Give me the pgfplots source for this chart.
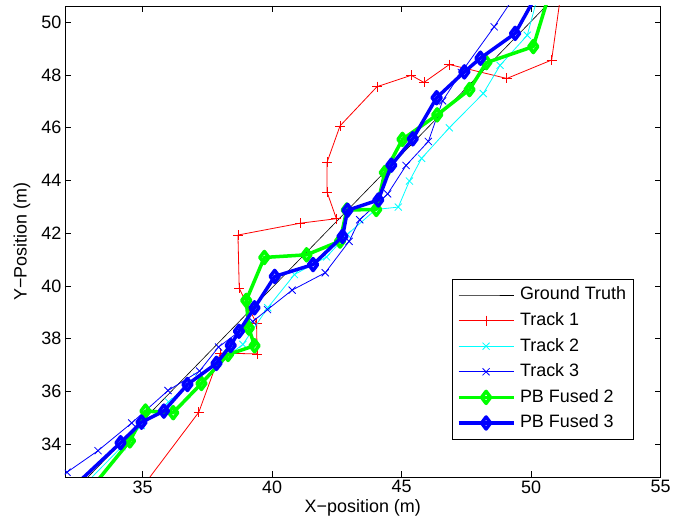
\documentclass[border=0pt]{standalone}
\usepackage{pgfplots}
\pgfplotsset{compat=1.18}
\usepackage{fontspec}
\setmainfont{Liberation Sans}
\definecolor{mred}{RGB}{255,0,0}
\definecolor{mcyan}{RGB}{0,255,255}
\definecolor{mblue}{RGB}{0,0,255}
\definecolor{mgreen}{RGB}{0,255,0}
\begin{document}
\begin{tikzpicture}
\useasboundingbox (0,0) rectangle (688bp,527bp);
\begin{axis}[
  at={(64.9bp,50bp)}, anchor=south west,
  width=595.8bp, height=471bp, scale only axis,
  xmin=32, xmax=55, ymin=32.75, ymax=50.62,
  xtick={35,40,45,50,55}, ytick={34,36,...,50},
  font=\fontsize{18}{21.6}\selectfont,
  /pgf/number format/assume math mode=true,
  tick align=inside, major tick length=6bp,
  tick style={black, line width=0.6bp},
  axis line style={black, line width=0.6bp},
  xlabel={X−position (m)}, ylabel={Y−Position (m)},
  xlabel style={at={(axis description cs:0.5,-0.0758)}, anchor=base},
  ylabel style={at={(axis description cs:-0.0722,0.5)}, anchor=center},
  clip marker paths=true,
  legend cell align=left,
  legend image code/.code={\draw[mark repeat=2,mark phase=2,#1] plot coordinates {(0bp,0bp) (27.5bp,0bp) (55bp,0bp)};},
  legend style={at={(axis description cs:1,0)}, anchor=south east, xshift=-27.4bp, yshift=37.7bp,
    draw=black, line width=0.6bp, fill=white, inner xsep=5bp, inner ysep=6bp,
    row sep=5.6bp, column sep=2.7bp,
    nodes={text height=13bp, text depth=3bp, inner sep=2bp},
    font=\fontsize{18}{21.6}\selectfont},
]
\addplot[black, line width=0.6bp] coordinates {(32,31.85) (51,51.05)};
\addlegendentry{Ground Truth}
\addplot[mred, line width=0.8bp, mark=+, mark size=5bp] coordinates {
(34.9,32.25) (37.17,35.21) (38.0,37.45) (39.42,37.42) (39.40,38.56) (38.73,39.91)
(38.68,41.93) (41.09,42.38) (42.48,42.55) (42.12,43.56) (42.12,44.69) (42.62,46.07)
(44.05,47.56) (45.37,47.99) (45.86,47.72) (46.84,48.40) (49.06,47.87) (50.79,48.57) (51.19,51.4)};
\addlegendentry{Track 1}
\addplot[mcyan, line width=0.8bp, mark=x, mark size=5bp] coordinates {
(32.7,32.4) (34.2,33.9) (34.95,34.7) (36.0,35.6) (37.1,36.55) (37.9,37.05) (38.87,37.78)
(39.83,39.17) (40.86,40.43) (42.1,41.1) (42.9,41.95) (44.0,42.9) (44.87,42.99) (45.30,43.98)
(45.77,44.84) (46.84,46.0) (48.15,47.30) (48.80,48.37) (49.85,49.51) (50.31,51.2)};
\addlegendentry{Track 2}
\addplot[mblue, line width=0.8bp, mark=x, mark size=5bp] coordinates {
(31.0,32.2) (32.08,32.93) (33.28,33.75) (34.58,34.8) (35.98,36.03) (37.2,36.77) (37.93,37.68)
(39.25,38.65) (39.82,39.1) (40.77,39.84) (42.05,40.5) (42.97,41.69) (43.38,42.51) (44.46,43.49)
(45.17,44.57) (46.03,45.48) (46.58,47.02) (47.3,48.1) (48.57,49.83) (49.3,50.9)};
\addlegendentry{Track 3}
\addplot[mgreen, line width=3.5bp, line join=round, mark=diamond, mark size=6bp] coordinates {
(33.0,32.3) (34.51,34.12) (35.11,35.25) (36.18,35.19) (37.27,36.30) (38.3,37.40) (39.32,37.73)
(39.1,38.4) (39.0,39.45) (39.7,41.08) (41.33,41.18) (42.62,41.7) (42.88,42.88) (44.02,42.90)
(44.35,44.3) (45.03,45.56) (46.37,46.49) (47.62,47.45) (48.27,48.47) (50.08,49.08) (50.8,51.4)};
\addlegendentry{PB Fused 2}
\addplot[mblue, line width=3.5bp, line join=round, mark=diamond, mark size=6bp] coordinates {
(32.3,32.35) (34.15,34.05) (34.96,34.83) (35.82,35.25) (36.73,36.26) (37.85,37.06) (38.4,37.74)
(38.72,38.28) (39.32,39.17) (40.1,40.36) (41.58,40.81) (42.72,41.88) (42.91,42.87) (44.1,43.26)
(44.6,44.58) (45.43,45.58) (46.35,47.14) (47.42,48.12) (48.04,48.64) (49.38,49.58) (50.3,51.2)};
\addlegendentry{PB Fused 3}
\end{axis}
\end{tikzpicture}
\end{document}
